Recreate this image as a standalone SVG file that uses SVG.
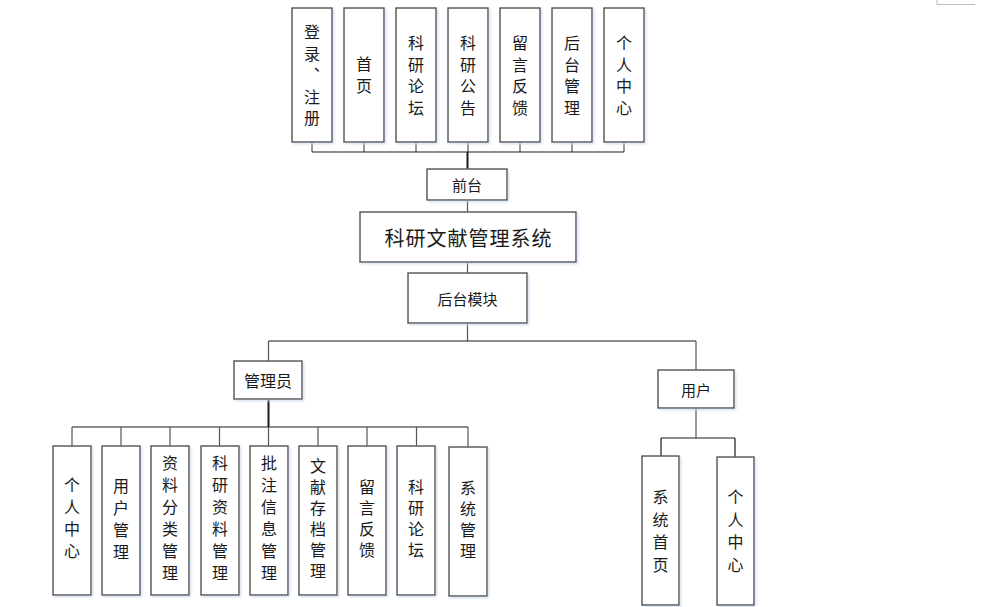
<svg xmlns="http://www.w3.org/2000/svg" width="997" height="607" viewBox="0 0 997 607">
<defs>
<filter id="sh" x="-20%" y="-20%" width="140%" height="140%">
<feDropShadow dx="1.5" dy="1.5" stdDeviation="1.2" flood-color="#c9d8ec" flood-opacity="0.8"/>
</filter>
</defs>
<style>
.box{fill:#ffffff;stroke:#505050;stroke-width:1.4;filter:url(#sh)}
.ln{fill:none;stroke:#1a1a1a;stroke-width:1.2}
.lg{fill:none;stroke:#555555;stroke-width:1.2}
.lt{fill:none;stroke:#1a1a1a;stroke-width:2}
text{font-family:"Noto Sans CJK SC","Noto Sans",sans-serif;fill:#1a1a1a;text-anchor:middle;dominant-baseline:central}
.v{font-size:16px;writing-mode:vertical-rl;text-orientation:upright}
.s55{letter-spacing:5.5px}
.s6{letter-spacing:6px}
.s5{letter-spacing:5px}
.s65{letter-spacing:6.5px}
.h{font-size:15px}
.t{font-size:20px;letter-spacing:1px}
</style>
<rect width="997" height="607" fill="#ffffff"/>
<path d="M937 0 V4.5 H975" fill="none" stroke="#bdbdbd" stroke-width="1"/>

<g id="connectors">
<path class="lg" d="M312 142 V152 M364 142 V152 M416 142 V152 M468 142 V152 M520 142 V152 M572 142 V152 M624 142 V152"/>
<path class="ln" d="M312 152 H624"/>
<path class="lt" d="M467.5 152 V169"/>
<path class="lg" d="M467.5 200 V212 M467.5 262 V273"/>
<path class="lg" d="M467.5 323 V341"/>
<path class="ln" d="M268.5 341 H696"/>
<path class="lg" d="M268.5 341 V361 M696 341 V370"/>
<path class="lt" d="M268.5 399 V427"/>
<path class="ln" d="M72 427 H468"/>
<path class="lg" d="M72 427 V446 M121 427 V446 M170 427 V446 M219.5 427 V446 M268.5 427 V446 M318 427 V446 M367 427 V446 M416.5 427 V446 M468 427 V447"/>
<path class="lg" d="M696 408 V438"/>
<path class="ln" d="M661 438 H735 M661 438 V456 M735 438 V457"/>
</g>

<g id="n-login"><rect class="box" x="292" y="8" width="40" height="134"/>
<text class="v s55" x="312" y="77.75">登录、注册</text></g>
<g id="n-home"><rect class="box" x="344" y="8" width="40" height="134"/>
<text class="v s55" x="364" y="77.5">首页</text></g>
<g id="n-forum"><rect class="box" x="396" y="8" width="40" height="134"/>
<text class="v s55" x="416" y="78">科研论坛</text></g>
<g id="n-notice"><rect class="box" x="448" y="8" width="40" height="134"/>
<text class="v s55" x="468" y="78">科研公告</text></g>
<g id="n-feedback"><rect class="box" x="500" y="8" width="40" height="134"/>
<text class="v s55" x="520" y="78">留言反馈</text></g>
<g id="n-backmgr"><rect class="box" x="552" y="8" width="40" height="134"/>
<text class="v s55" x="572" y="78">后台管理</text></g>
<g id="n-center-top"><rect class="box" x="604" y="8" width="40" height="134"/>
<text class="v s55" x="624" y="78">个人中心</text></g>

<g id="n-front"><rect class="box" x="427" y="169" width="80" height="31"/>
<text class="h" x="467" y="184.5">前台</text></g>
<g id="n-system"><rect class="box" x="360" y="212" width="216" height="50"/>
<text class="t" x="468.5" y="237">科研文献管理系统</text></g>
<g id="n-back"><rect class="box" x="408" y="273" width="119" height="50"/>
<text class="h" x="467.5" y="298">后台模块</text></g>

<g id="n-admin"><rect class="box" x="234" y="361" width="68" height="38"/>
<text x="268" y="380" style="font-size:16px">管理员</text></g>
<g id="n-user"><rect class="box" x="658" y="370" width="76" height="38"/>
<text class="h" x="696" y="389">用户</text></g>

<g id="n-a1"><rect class="box" x="53" y="446" width="38" height="149"/>
<text class="v s6" x="72" y="521">个人中心</text></g>
<g id="n-a2"><rect class="box" x="102" y="446" width="38" height="149"/>
<text class="v s6" x="121" y="522">用户管理</text></g>
<g id="n-a3"><rect class="box" x="151" y="446" width="38" height="149"/>
<text class="v s6" x="170" y="521">资料分类管理</text></g>
<g id="n-a4"><rect class="box" x="201" y="446" width="38" height="149"/>
<text class="v s6" x="220" y="521">科研资料管理</text></g>
<g id="n-a5"><rect class="box" x="250" y="446" width="38" height="149"/>
<text class="v s6" x="269" y="521">批注信息管理</text></g>
<g id="n-a6"><rect class="box" x="299" y="446" width="38" height="149"/>
<text class="v s5" x="318" y="521">文献存档管理</text></g>
<g id="n-a7"><rect class="box" x="348" y="446" width="38" height="149"/>
<text class="v s5" x="367" y="520.5">留言反馈</text></g>
<g id="n-a8"><rect class="box" x="397" y="446" width="38" height="149"/>
<text class="v s5" x="416" y="520.5">科研论坛</text></g>
<g id="n-a9"><rect class="box" x="449" y="447" width="38" height="149"/>
<text class="v s5" x="468" y="522">系统管理</text></g>

<g id="n-u1"><rect class="box" x="642" y="456" width="37" height="149"/>
<text class="v s65" x="660.5" y="534">系统首页</text></g>
<g id="n-u2"><rect class="box" x="717" y="457" width="37" height="148"/>
<text class="v s65" x="735.5" y="534">个人中心</text></g>
</svg>
